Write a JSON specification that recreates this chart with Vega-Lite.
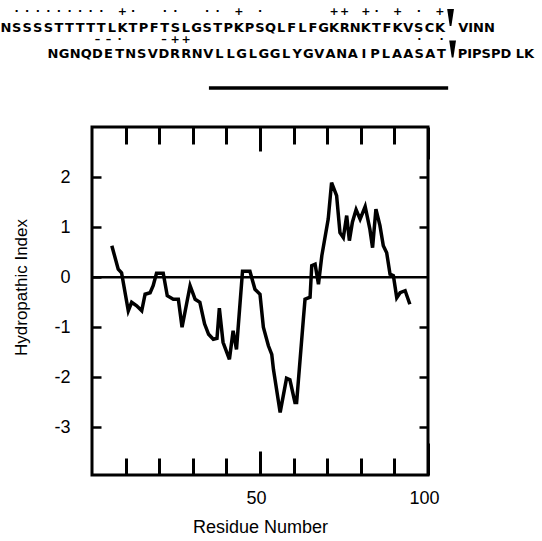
{
  "$schema": "https://vega.github.io/schema/vega-lite/v6.json",
  "width": 336,
  "height": 348,
  "autosize": {"type": "none"},
  "padding": {"left": 92, "top": 127, "right": 114, "bottom": 66},
  "background": "white",
  "config": {
    "view": {"stroke": "black", "strokeWidth": 3},
    "font": "Liberation Sans",
    "axis": {"grid": false, "domain": false, "labelColor": "black", "titleColor": "black", "tickColor": "black"}
  },
  "datasets": {
    "profile": [
      {"res": 5.9, "val": 0.63}, {"res": 7.8, "val": 0.16}, {"res": 8.8, "val": 0.09}, {"res": 10.8, "val": -0.67},
      {"res": 11.8, "val": -0.5}, {"res": 13.3, "val": -0.57}, {"res": 14.8, "val": -0.67}, {"res": 15.8, "val": -0.34},
      {"res": 17.3, "val": -0.31}, {"res": 18.2, "val": -0.17}, {"res": 19.2, "val": 0.08}, {"res": 21.2, "val": 0.08},
      {"res": 22.4, "val": -0.37}, {"res": 24.2, "val": -0.44}, {"res": 25.7, "val": -0.44}, {"res": 26.8, "val": -1.0},
      {"res": 29.2, "val": -0.17}, {"res": 30.7, "val": -0.44}, {"res": 32.1, "val": -0.5}, {"res": 33.5, "val": -0.93},
      {"res": 34.7, "val": -1.14}, {"res": 36.1, "val": -1.24}, {"res": 37.2, "val": -1.22}, {"res": 37.9, "val": -0.62},
      {"res": 39.0, "val": -1.3}, {"res": 40.9, "val": -1.64}, {"res": 42.0, "val": -1.07}, {"res": 43.0, "val": -1.44},
      {"res": 44.0, "val": -0.57}, {"res": 44.8, "val": 0.12}, {"res": 47.0, "val": 0.12}, {"res": 48.5, "val": -0.24},
      {"res": 50.0, "val": -0.34}, {"res": 51.0, "val": -1.0}, {"res": 52.5, "val": -1.37}, {"res": 53.5, "val": -1.54},
      {"res": 54.0, "val": -1.84}, {"res": 56.0, "val": -2.7}, {"res": 57.9, "val": -2.02}, {"res": 58.9, "val": -2.05},
      {"res": 60.4, "val": -2.5}, {"res": 60.9, "val": -2.5}, {"res": 62.9, "val": -0.84}, {"res": 63.4, "val": -0.44},
      {"res": 64.9, "val": -0.4}, {"res": 65.4, "val": 0.23}, {"res": 66.4, "val": 0.26}, {"res": 67.4, "val": -0.14},
      {"res": 68.4, "val": 0.43}, {"res": 70.3, "val": 1.16}, {"res": 71.3, "val": 1.89}, {"res": 72.8, "val": 1.63},
      {"res": 73.8, "val": 0.89}, {"res": 74.8, "val": 0.79}, {"res": 75.8, "val": 1.23}, {"res": 76.6, "val": 0.73},
      {"res": 77.5, "val": 1.1}, {"res": 78.6, "val": 1.35}, {"res": 79.8, "val": 1.16}, {"res": 81.3, "val": 1.41},
      {"res": 82.7, "val": 0.96}, {"res": 83.5, "val": 0.59}, {"res": 84.5, "val": 1.36}, {"res": 85.7, "val": 1.03},
      {"res": 86.7, "val": 0.63}, {"res": 87.7, "val": 0.49}, {"res": 88.7, "val": 0.06}, {"res": 89.7, "val": 0.03},
      {"res": 90.7, "val": -0.41}, {"res": 91.7, "val": -0.31}, {"res": 93.2, "val": -0.27}, {"res": 94.6, "val": -0.54}
    ],
    "seq1": [
      {"i": 0, "a": "N", "s": ""}, {"i": 1, "a": "S", "s": "·"}, {"i": 2, "a": "S", "s": "·"}, {"i": 3, "a": "S", "s": "·"},
      {"i": 4, "a": "S", "s": "·"}, {"i": 5, "a": "T", "s": "·"}, {"i": 6, "a": "T", "s": "·"}, {"i": 7, "a": "T", "s": "·"},
      {"i": 8, "a": "T", "s": "·"}, {"i": 9, "a": "T", "s": "·"}, {"i": 10, "a": "L", "s": ""}, {"i": 11, "a": "K", "s": "+"},
      {"i": 12, "a": "T", "s": "·"}, {"i": 13, "a": "P", "s": ""}, {"i": 14, "a": "F", "s": ""}, {"i": 15, "a": "T", "s": "·"},
      {"i": 16, "a": "S", "s": "·"}, {"i": 17, "a": "L", "s": ""}, {"i": 18, "a": "G", "s": ""}, {"i": 19, "a": "S", "s": "·"},
      {"i": 20, "a": "T", "s": "·"}, {"i": 21, "a": "P", "s": ""}, {"i": 22, "a": "K", "s": "+"}, {"i": 23, "a": "P", "s": ""},
      {"i": 24, "a": "S", "s": "·"}, {"i": 25, "a": "Q", "s": ""}, {"i": 26, "a": "L", "s": ""}, {"i": 27, "a": "F", "s": ""},
      {"i": 28, "a": "L", "s": ""}, {"i": 29, "a": "F", "s": ""}, {"i": 30, "a": "G", "s": ""}, {"i": 31, "a": "K", "s": "+"},
      {"i": 32, "a": "R", "s": "+"}, {"i": 33, "a": "N", "s": ""}, {"i": 34, "a": "K", "s": "+"}, {"i": 35, "a": "T", "s": "·"},
      {"i": 36, "a": "F", "s": ""}, {"i": 37, "a": "K", "s": "+"}, {"i": 38, "a": "V", "s": ""}, {"i": 39, "a": "S", "s": "·"},
      {"i": 40, "a": "C", "s": ""}, {"i": 41, "a": "K", "s": "+"}
    ],
    "seq2": [
      {"i": 0, "a": "N", "s": ""}, {"i": 1, "a": "G", "s": ""}, {"i": 2, "a": "N", "s": ""}, {"i": 3, "a": "Q", "s": ""},
      {"i": 4, "a": "D", "s": "–"}, {"i": 5, "a": "E", "s": "–"}, {"i": 6, "a": "T", "s": "·"}, {"i": 7, "a": "N", "s": ""},
      {"i": 8, "a": "S", "s": ""}, {"i": 9, "a": "V", "s": ""}, {"i": 10, "a": "D", "s": "–"}, {"i": 11, "a": "R", "s": "+"},
      {"i": 12, "a": "R", "s": "+"}, {"i": 13, "a": "N", "s": ""}, {"i": 14, "a": "V", "s": ""}, {"i": 15, "a": "L", "s": ""},
      {"i": 16, "a": "L", "s": ""}, {"i": 17, "a": "G", "s": ""}, {"i": 18, "a": "L", "s": ""}, {"i": 19, "a": "G", "s": ""},
      {"i": 20, "a": "G", "s": ""}, {"i": 21, "a": "L", "s": ""}, {"i": 22, "a": "Y", "s": ""}, {"i": 23, "a": "G", "s": ""},
      {"i": 24, "a": "V", "s": ""}, {"i": 25, "a": "A", "s": ""}, {"i": 26, "a": "N", "s": ""}, {"i": 27, "a": "A", "s": ""},
      {"i": 28, "a": "I", "s": ""}, {"i": 29, "a": "P", "s": ""}, {"i": 30, "a": "L", "s": ""}, {"i": 31, "a": "A", "s": ""},
      {"i": 32, "a": "A", "s": ""}, {"i": 33, "a": "S", "s": "·"}, {"i": 34, "a": "A", "s": ""}, {"i": 35, "a": "T", "s": "·"}
    ],
    "tail1": [{"i": 43, "t": "VINN"}],
    "tail2": [{"i": 37, "t": "PIPSPD LK"}],
    "site1": [{"i": 42}],
    "site2": [{"i": 36}]
  },
  "resolve": {"scale": {"x": "independent"}, "axis": {"x": "independent", "y": "independent"}},
  "layer": [
    {
      "resolve": {"axis": {"x": "independent", "y": "independent"}},
      "layer": [
        {
          "data": {"name": "profile"},
          "mark": {"type": "line", "color": "black", "strokeWidth": 3.5},
          "encoding": {
            "x": {"field": "res", "type": "quantitative", "scale": {"domain": [0, 100], "nice": false, "zero": false},
                  "axis": {"orient": "bottom", "values": [50, 100], "ticks": false, "labelPadding": 14, "labelFontSize": 18, "labelOffset": -4, "labelFlush": false,
                           "title": "Residue Number", "titleFontSize": 18, "titleFontWeight": "normal", "titlePadding": 11}},
            "y": {"field": "val", "type": "quantitative", "scale": {"domain": [-3.95, 3], "nice": false, "zero": false},
                  "axis": {"orient": "left", "values": [-3, -2, -1, 0, 1, 2], "ticks": false, "labelPadding": 22, "labelFontSize": 18, "labelExpr": "'' + datum.value",
                           "title": "Hydropathic Index", "titleFontSize": 17, "titleFontWeight": "normal", "titlePadding": 23, "titleY": 160}}
          }
        },
        {
          "data": {"values": [{}]},
          "mark": {"type": "rule", "color": "black", "strokeWidth": 2.5},
          "encoding": {
            "x": {"datum": 0, "type": "quantitative", "scale": {"domain": [0, 100], "nice": false, "zero": false},
                  "axis": {"orient": "bottom", "values": [10, 20, 30, 40, 50, 60, 70, 80, 90, 100], "labels": false, "title": null, "tickWidth": 3,
                           "tickSize": {"condition": [{"test": "datum.value == 50", "value": -24}, {"test": "datum.value == 100", "value": -32}], "value": -17}}},
            "x2": {"datum": 100},
            "y": {"datum": 0, "type": "quantitative", "scale": {"domain": [-3.95, 3], "nice": false, "zero": false},
                  "axis": {"orient": "left", "values": [-3, -2, -1, 0, 1, 2], "labels": false, "title": null, "tickWidth": 2.5, "tickSize": -9}}
          }
        },
        {
          "data": {"values": [{}]},
          "mark": {"type": "rule", "color": "black", "strokeWidth": 3.5},
          "encoding": {
            "x": {"datum": 34.8, "type": "quantitative", "scale": {"domain": [0, 100], "nice": false, "zero": false},
                  "axis": {"orient": "top", "values": [10, 20, 30, 40, 50, 60, 70, 80, 90, 100], "labels": false, "title": null, "tickWidth": 3,
                           "tickSize": {"condition": [{"test": "datum.value == 50", "value": -24}, {"test": "datum.value == 100", "value": -32}], "value": -17}}},
            "x2": {"datum": 106},
            "y": {"datum": 3.78, "type": "quantitative", "scale": {"domain": [-3.95, 3], "nice": false, "zero": false},
                  "axis": {"orient": "right", "values": [-3, -2, -1, 1, 2], "labels": false, "title": null, "tickWidth": 2.5, "tickSize": -9}}
          }
        }
      ]
    },
    {
      "layer": [
        {
          "data": {"name": "seq1"},
          "mark": {"type": "text", "font": "DejaVu Sans", "fontWeight": "bold", "fontSize": 13, "align": "center", "baseline": "alphabetic", "color": "black"},
          "encoding": {
            "x": {"field": "i", "type": "quantitative", "scale": {"domain": [8.1247, 39.868], "nice": false, "zero": false}, "axis": null},
            "y": {"datum": 4.907, "type": "quantitative", "scale": {"domain": [-3.95, 3], "nice": false, "zero": false}, "axis": null},
            "text": {"field": "a"}
          }
        },
        {
          "data": {"name": "seq1"},
          "mark": {"type": "text", "font": "DejaVu Sans", "fontWeight": "bold", "fontSize": 11, "align": "center", "baseline": "middle", "color": "black"},
          "encoding": {
            "x": {"field": "i", "type": "quantitative", "axis": null},
            "y": {"datum": 5.297, "type": "quantitative", "axis": null},
            "text": {"field": "s"}
          }
        },
        {
          "data": {"name": "tail1"},
          "mark": {"type": "text", "font": "DejaVu Sans", "fontWeight": "bold", "fontSize": 13, "align": "left", "baseline": "alphabetic", "dx": -3, "color": "black"},
          "encoding": {
            "x": {"field": "i", "type": "quantitative", "axis": null},
            "y": {"datum": 4.907, "type": "quantitative", "axis": null},
            "text": {"field": "t"}
          }
        },
        {
          "data": {"name": "site1"},
          "mark": {"type": "point", "shape": "M-0.4,-1L0.4,-1L0.1,1L-0.1,1Z", "size": 289, "filled": true, "color": "black", "opacity": 1},
          "encoding": {
            "x": {"field": "i", "type": "quantitative", "axis": null},
            "y": {"datum": 5.187, "type": "quantitative", "axis": null}
          }
        }
      ]
    },
    {
      "layer": [
        {
          "data": {"name": "seq2"},
          "mark": {"type": "text", "font": "DejaVu Sans", "fontWeight": "bold", "fontSize": 13, "align": "center", "baseline": "alphabetic", "color": "black"},
          "encoding": {
            "x": {"field": "i", "type": "quantitative", "scale": {"domain": [3.5135, 33.784], "nice": false, "zero": false}, "axis": null},
            "y": {"datum": 4.378, "type": "quantitative", "scale": {"domain": [-3.95, 3], "nice": false, "zero": false}, "axis": null},
            "text": {"field": "a"}
          }
        },
        {
          "data": {"name": "seq2"},
          "mark": {"type": "text", "font": "DejaVu Sans", "fontWeight": "bold", "fontSize": 11, "align": "center", "baseline": "middle", "color": "black"},
          "encoding": {
            "x": {"field": "i", "type": "quantitative", "axis": null},
            "y": {"datum": 4.7336, "type": "quantitative", "axis": null},
            "text": {"field": "s"}
          }
        },
        {
          "data": {"name": "tail2"},
          "mark": {"type": "text", "font": "DejaVu Sans", "fontWeight": "bold", "fontSize": 13, "align": "left", "baseline": "alphabetic", "dx": -6, "color": "black"},
          "encoding": {
            "x": {"field": "i", "type": "quantitative", "axis": null},
            "y": {"datum": 4.378, "type": "quantitative", "axis": null},
            "text": {"field": "t"}
          }
        },
        {
          "data": {"name": "site2"},
          "mark": {"type": "point", "shape": "M-0.4,-1L0.4,-1L0.1,1L-0.1,1Z", "size": 289, "filled": true, "color": "black", "opacity": 1},
          "encoding": {
            "x": {"field": "i", "type": "quantitative", "axis": null},
            "y": {"datum": 4.558, "type": "quantitative", "axis": null}
          }
        }
      ]
    }
  ]
}
